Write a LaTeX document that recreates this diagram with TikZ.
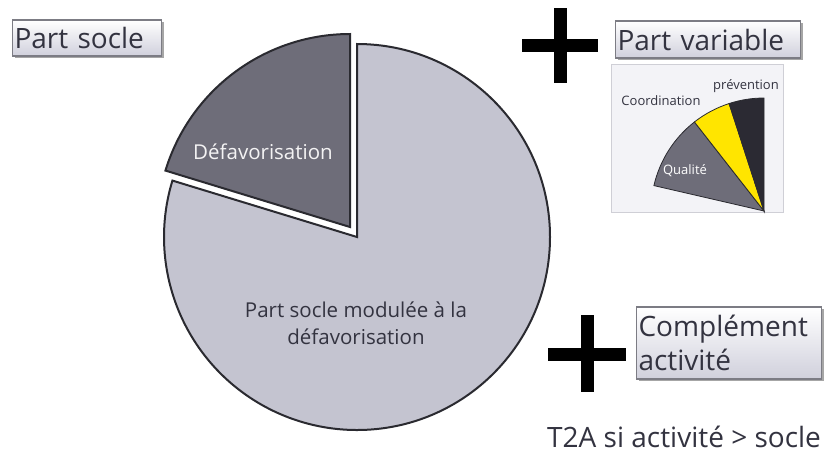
\documentclass[tikz,border=0pt]{standalone}
\usepackage{fontspec}
\setmainfont{Open Sans}
\usetikzlibrary{shadows}
\definecolor{pielight}{HTML}{C4C4D0}
\definecolor{piedark}{HTML}{6E6D79}
\definecolor{pieline}{HTML}{2A2A30}
\definecolor{ink}{HTML}{333340}
\definecolor{sunny}{HTML}{FFE500}
\definecolor{nightslice}{HTML}{2B2A33}
\definecolor{boxbottom}{HTML}{D0D0DC}
\definecolor{boxline}{HTML}{7C7C84}
\definecolor{panelfill}{HTML}{F3F3F7}
\definecolor{panelline}{HTML}{CFCFD6}
\begin{document}
\begin{tikzpicture}[x=1pt,y=-1pt,
  labelbox/.style={draw=boxline, line width=1.2pt, top color=white, bottom color=boxbottom,
    drop shadow={shadow xshift=2pt, shadow yshift=-2pt, opacity=0.35, fill=black},
    inner sep=2pt, font=\fontsize{28}{34}\selectfont, text=ink, align=left},
  plusbar/.style={line width=13pt, black},
  slice/.style={draw=pieline, line width=2pt},
  minislice/.style={draw=pieline, line width=0.8pt},
  pietext/.style={font=\fontsize{20.5}{27}\selectfont},
  minitext/.style={font=\fontsize{13}{15}\selectfont, text=ink},
]
\useasboundingbox[fill=white] (0,0) rectangle (837,459);

% main pie
\coordinate (c) at (357,237);
\filldraw[slice, fill=pielight] (c) -- ++(-90:193) arc[start angle=-90, end angle=197, radius=193] -- cycle;
\coordinate (c2) at (350,227);
\filldraw[slice, fill=piedark] (c2) -- ++(-90:193) arc[start angle=-90, end angle=-163, radius=193] -- cycle;

\node[pietext, text=white!92!piedark] (dfv) at (263,152) {Défavorisation};
\node[pietext, text=ink, align=center] (psm) at (356,323) {Part socle modulée à la\\défavorisation};

% labels
\node[labelbox, minimum height=36pt, text width=145pt] (ps) at (87,38) {Part socle};
\node[labelbox, minimum height=37pt, text width=181pt] (pv) at (708,39.5) {Part variable};
\node[labelbox, minimum height=72pt, text width=181pt] (ca) at (729,343) {Complément\\activité};

% plus signs
\draw[plusbar] (522,45) -- (598,45);
\draw[plusbar] (560,8) -- (560,83);
\draw[plusbar] (548,354) -- (626,354);
\draw[plusbar] (587,315) -- (587,392);

% small pie panel
\fill[panelfill, draw=panelline, line width=0.8pt] (611,64) rectangle (783,212);
\coordinate (sc) at (764,211);
\filldraw[minislice, fill=piedark] (sc) -- ++(-128:113) arc[start angle=-128, end angle=-167, radius=113] -- cycle;
\filldraw[minislice, fill=sunny] (sc) -- ++(-108:113) arc[start angle=-108, end angle=-128, radius=113] -- cycle;
\filldraw[minislice, fill=nightslice] (sc) -- ++(-90:113) arc[start angle=-90, end angle=-108, radius=113] -- cycle;
\node[minitext] (coo) at (661,101) {Coordination};
\node[minitext] (prv) at (746,86) {prévention};
\node[minitext, text=white] (qua) at (685,171) {Qualité};

% bottom note
\node[anchor=base west, inner sep=0pt, text=ink, font=\fontsize{28}{34}\selectfont] (t2a) at (547,447) {T2A si activité > socle};
\end{tikzpicture}
\end{document}
